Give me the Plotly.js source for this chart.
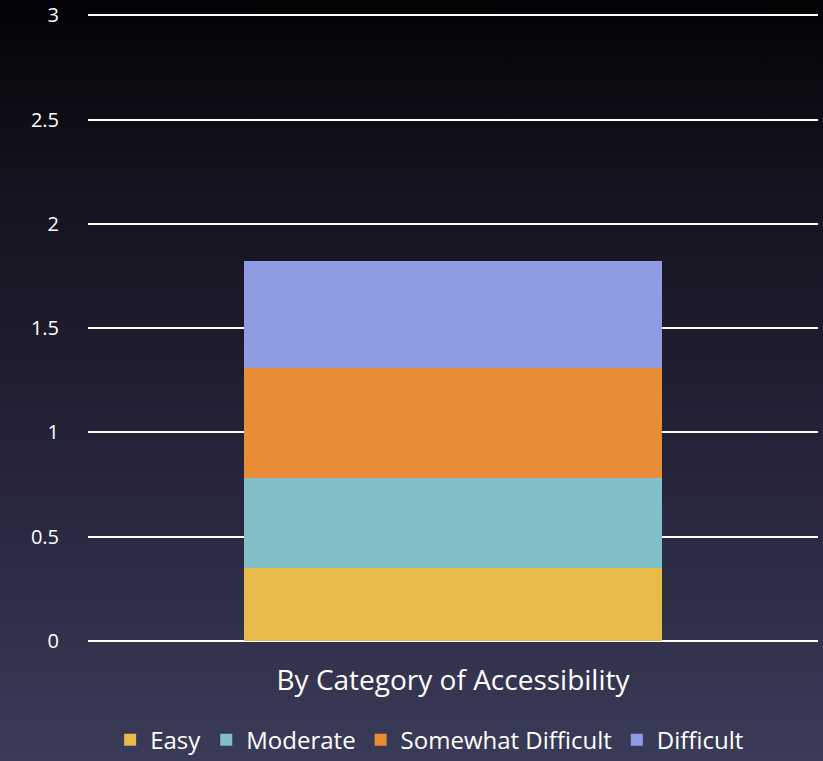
<!DOCTYPE html>
<html>
<head>
<meta charset="utf-8">
<script src="https://cdn.plot.ly/plotly-3.0.1.min.js"></script>
<style>
html,body{margin:0;padding:0;}
body{width:823px;height:761px;background:linear-gradient(to bottom,#030306 0%,#14131f 25%,#242339 60%,#3a3b58 100%);}
#chart{width:823px;height:761px;}
</style>
</head>
<body>
<div id="chart"></div>
<script>
const categories = ["By Category of Accessibility"];
const seriesNames = ["Easy", "Moderate", "Somewhat Difficult", "Difficult"];
const easy = [0.35];
const moderate = [0.43];
const somewhatDifficult = [0.53];
const difficult = [0.51];
const colors = ["#e8b94b", "#83bfc7", "#e88c36", "#8f9be2"];
const yTicks = [0, 0.5, 1, 1.5, 2, 2.5, 3];

const allValues = [easy, moderate, somewhatDifficult, difficult];
const traces = allValues.map((vals, i) => ({
  type: 'bar',
  name: seriesNames[i],
  x: categories,
  y: vals,
  marker: {color: colors[i], line: {width: 0}},
  width: 0.573,
  hoverinfo: 'none'
}));

const font = "'Open Sans', 'Noto Sans', sans-serif";
const layout = {
  width: 823, height: 761,
  paper_bgcolor: 'rgba(0,0,0,0)',
  plot_bgcolor: 'rgba(0,0,0,0)',
  barmode: 'stack',
  margin: {l: 88, r: 5, t: 14, b: 120, autoexpand: false},
  font: {family: font, color: '#ffffff'},
  xaxis: {
    type: 'category',
    showgrid: false,
    showline: false,
    zeroline: false,
    ticks: '',
    tickfont: {size: 28, color: '#ffffff', family: font},
    ticklabelstandoff: 20
  },
  yaxis: {
    range: [0, 3.006],
    tickvals: yTicks,
    ticktext: yTicks.map(String),
    showgrid: true,
    gridcolor: '#ffffff',
    gridwidth: 2,
    zeroline: true,
    zerolinecolor: '#ffffff',
    zerolinewidth: 2,
    showline: false,
    ticks: '',
    tickfont: {size: 20, color: '#ffffff', family: font},
    ticklabelstandoff: 28
  },
  showlegend: true,
  legend: {
    orientation: 'h',
    x: 0.468, xanchor: 'center',
    y: -0.158, yanchor: 'middle',
    font: {size: 24, color: '#ffffff', family: font},
    bgcolor: 'rgba(0,0,0,0)',
    traceorder: 'normal',
    itemwidth: 30
  }
};

Plotly.newPlot('chart', traces, layout, {displayModeBar: false, staticPlot: true});
</script>
</body>
</html>
